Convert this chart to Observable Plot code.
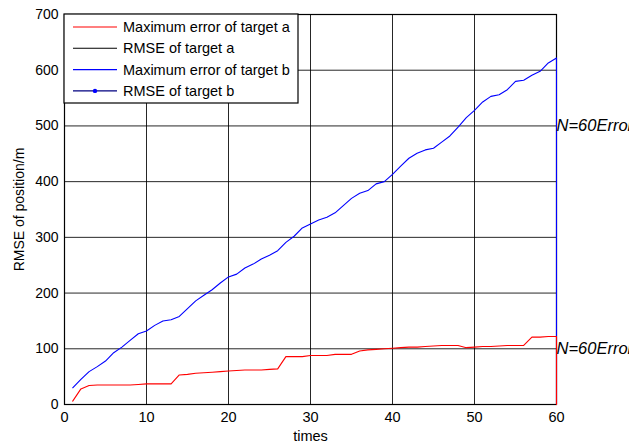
<!DOCTYPE html>
<html>
<head>
<meta charset="utf-8">
<script src="https://cdn.jsdelivr.net/npm/d3@7"></script>
<script src="https://cdn.jsdelivr.net/npm/@observablehq/plot@0.6"></script>
<style>
  html, body { margin: 0; padding: 0; background: #fff; overflow: hidden; }
</style>
</head>
<body>
<div id="chart"></div>
<script>
// Data
const times = d3.range(1, 61);
const maxErrA = [6, 28, 34, 35, 35, 35, 35, 35, 36, 37, 37, 37, 37, 53, 54, 56, 57, 58, 59, 60,
  61, 62, 62, 62, 63, 64, 86, 86, 86, 88, 88, 88, 90, 90, 90, 96, 98, 99, 100, 101,
  102, 103, 103, 104, 105, 106, 106, 106, 102, 103, 104, 104, 105, 106, 106, 106, 121, 121, 122, 122];
const maxErrB = [30, 45, 59, 68, 78, 93, 103, 115, 127, 132, 142, 150, 152, 158, 172, 186, 196, 206, 218, 229,
  234, 245, 252, 261, 268, 276, 291, 302, 317, 324, 331, 336, 344, 357, 370, 379, 384, 396, 400, 413,
  428, 442, 451, 457, 460, 471, 482, 498, 515, 528, 543, 553, 556, 565, 580, 582, 591, 598, 613, 622];
// final drop at N = 60
const endX = 60, endY = 0;
const xTicks = [0, 10, 20, 30, 40, 50, 60];
const yTicks = [0, 100, 200, 300, 400, 500, 600, 700];
const annotY = [500, 100];
const annotText = "N=60Error";
const legendLabels = ["Maximum error of target a", "RMSE of target a", "Maximum error of target b", "RMSE of target b"];
const legendColors = ["#ff0000", "#000000", "#0000ff", "#000080"];

const seriesA = times.map((t, i) => ({x: t, y: maxErrA[i]})).concat([{x: endX, y: endY}]);
const seriesB = times.map((t, i) => ({x: t, y: maxErrB[i]})).concat([{x: endX, y: endY}]);

const FONT = "'Liberation Sans', Arial, Helvetica, sans-serif";
const FS = 14.5;

const chart = Plot.plot({
  width: 629,
  height: 446,
  marginLeft: 64,
  marginRight: 73,
  marginTop: 14,
  marginBottom: 42,
  style: {fontFamily: FONT, fontSize: "14px", background: "#fff", color: "#000", overflow: "visible"},
  x: {domain: [0, 60]},
  y: {domain: [0, 700]},
  marks: [
    Plot.gridX(xTicks, {stroke: "#000", strokeOpacity: 0.85, strokeWidth: 1}),
    Plot.gridY(yTicks, {stroke: "#000", strokeOpacity: 0.85, strokeWidth: 1}),
    Plot.frame({stroke: "#000", strokeWidth: 1.2}),
    Plot.axisX(xTicks, {tickSize: 0, tickPadding: 7, label: "times", labelAnchor: "center", labelOffset: 36, labelArrow: "none", fontSize: 14.5}),
    Plot.axisY(yTicks, {tickSize: 0, tickPadding: 6, label: "RMSE of position/m", labelAnchor: "center", labelOffset: 50, labelArrow: "none", fontSize: 14}),
    Plot.line(seriesB, {x: "x", y: "y", stroke: "#0000ff", strokeWidth: 1.1}),
    Plot.line(seriesA, {x: "x", y: "y", stroke: "#ff0000", strokeWidth: 1.1}),
    Plot.text(annotY, {x: () => endX, y: d => d, text: () => annotText, textAnchor: "start", dx: 0, fontStyle: "italic", fontSize: 16.5, fill: "#000"})
  ]
});
document.getElementById("chart").appendChild(chart);

// Legend box in the upper-left corner of the axes
const svg = d3.select(chart);
const lg = svg.append("g").attr("transform", "translate(64,14)").attr("text-anchor", "start");
lg.append("rect").attr("width", 234).attr("height", 89).attr("fill", "#fff").attr("stroke", "#000").attr("stroke-width", 1.2);
legendLabels.forEach((lab, i) => {
  const y = 13 + i * 21.3;
  lg.append("line").attr("x1", 9).attr("x2", 53).attr("y1", y).attr("y2", y)
    .attr("stroke", legendColors[i]).attr("stroke-width", 1.1);
  if (i === 3) lg.append("circle").attr("cx", 31).attr("cy", y).attr("r", 2.2).attr("fill", "#0000ff");
  lg.append("text").attr("x", 59).attr("y", y).attr("dy", "0.35em").attr("text-anchor", "start")
    .attr("font-family", FONT).attr("font-size", FS).attr("fill", "#000").text(lab);
});
</script>
</body>
</html>
